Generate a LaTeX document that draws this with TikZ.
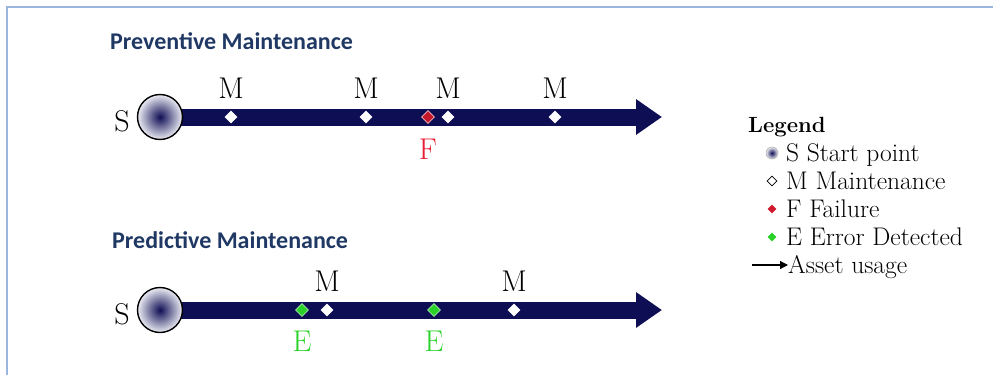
\documentclass[tikz,border=0pt]{standalone}
\usepackage{fontspec}
\newfontfamily\titlefont{Carlito}
\usetikzlibrary{shapes.geometric,arrows.meta,positioning}

\definecolor{framecol}{RGB}{155,181,225}
\definecolor{titlecol}{RGB}{31,56,100}
\definecolor{barcol}{RGB}{14,14,84}
\definecolor{ballout}{RGB}{236,236,244}
\definecolor{failcol}{RGB}{230,30,50}
\definecolor{detcol}{RGB}{40,210,40}

\tikzset{
  title/.style={font=\titlefont\bfseries\fontsize{24}{24}\selectfont, text=titlecol, anchor=west, inner sep=0pt},
  lbl/.style={font=\fontsize{30}{30}\selectfont, anchor=base, inner sep=0pt},
  startpt/.style={circle, draw=black, line width=1.4pt, minimum size=45pt, inner sep=0pt, inner color=barcol, outer color=ballout},
  bar/.style={barcol, line width=17pt, -{Triangle[length=26pt,width=34pt]}},
  mdia/.style={diamond, fill=white, minimum size=13pt, inner sep=0pt},
  fdia/.style={mdia, fill=failcol!85!black, draw=failcol!30!white, line width=0.8pt},
  edia/.style={mdia, fill=detcol, draw=detcol!40!white, line width=0.8pt},
  legtext/.style={font=\fontsize{25.5}{25.5}\selectfont, anchor=base west, inner sep=0pt},
}

\begin{document}
\begin{tikzpicture}[x=1pt, y=-1pt]
    \useasboundingbox (0,0) rectangle (993,375);

    % Frame
    \draw[framecol, line width=1.5pt] (7,375) -- (7,7) -- (993,7);

    % Preventive maintenance
    \node[title] (prevtitle) at (110,41) {Preventive Maintenance};
    \coordinate (c1) at (160,117);
    \coordinate (e1) at (662,117);
    \draw[bar] (c1) -- (e1);
    \node[startpt] (s1) at (c1) {};
    \node[lbl] (s1lbl) at (122,131) {S};
    \foreach \x/\n in {231/a, 366/b, 448/c, 555/d} {
        \node[mdia] (pm\n) at (\x,117) {};
        \node[lbl] (pm\n lbl) at (\x,98) {M};
    }
    \node[fdia] (pf) at (428,117) {};
    \node[lbl, text=failcol] (pflbl) at (428,159) {F};

    % Predictive maintenance
    \node[title] (predtitle) at (112,240) {Predictive Maintenance};
    \coordinate (c2) at (160,310);
    \coordinate (e2) at (662,310);
    \draw[bar] (c2) -- (e2);
    \node[startpt] (s2) at (c2) {};
    \node[lbl] (s2lbl) at (122,324) {S};
    \foreach \x/\n in {327/a, 514/b} {
        \node[mdia] (dm\n) at (\x,310) {};
        \node[lbl] (dm\n lbl) at (\x,291) {M};
    }
    \foreach \x/\n in {302/a, 434/b} {
        \node[edia] (de\n) at (\x,310) {};
        \node[lbl, text=detcol] (de\n lbl) at (\x,351) {E};
    }

    % Legend
    \node[legtext, font=\bfseries\fontsize{22}{22}\selectfont] (leg) at (748,132) {Legend};
    \node[circle, draw=gray!60, line width=0.6pt, minimum size=12pt, inner sep=0pt,
          inner color=barcol, outer color=ballout] (lgs) at (772,153) {};
    \node[legtext] (lgstxt) at (786,161) {S Start point};
    \node[diamond, draw=black, fill=white, line width=0.8pt, minimum size=10pt, inner sep=0pt] (lgm) at (772,181) {};
    \node[legtext] (lgmtxt) at (786,189) {M Maintenance};
    \node[diamond, fill=failcol!90!black, minimum size=9pt, inner sep=0pt] (lgf) at (772,209) {};
    \node[legtext] (lgftxt) at (786,217) {F Failure};
    \node[diamond, fill=detcol, minimum size=9pt, inner sep=0pt] (lge) at (772,237) {};
    \node[legtext] (lgetxt) at (786,245) {E Error Detected};
    \coordinate (lga) at (752,265);
    \node[legtext] (lgatxt) at (788,273) {Asset usage};
    \draw[line width=1.2pt, -{Triangle[length=8pt,width=8pt]}] (lga) -- (lga -| lgatxt.west);
\end{tikzpicture}
\end{document}
